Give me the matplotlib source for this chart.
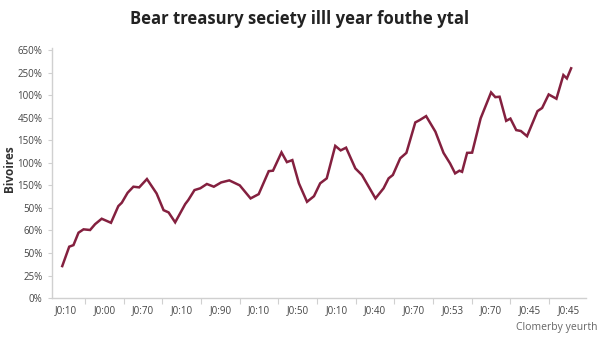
import matplotlib
matplotlib.use("Agg")
import matplotlib.pyplot as plt
from matplotlib.ticker import FixedLocator

# chart text
title = "Bear treasury seciety illl year fouthe ytal"
y_label = "Bivoires"
footer = "Clomerby yeurth"

# category labels along x (one per slot) and tick labels on y (bottom to top)
x_labels = ["J0:10", "J0:00", "J0:70", "J0:10", "J0:90", "J0:10", "J0:50",
            "J0:10", "J0:40", "J0:70", "J0:53", "J0:70", "J0:45", "J0:45"]
y_labels = ["0%", "25%", "50%", "60%", "50%", "150%", "100%",
            "150%", "450%", "100%", "250%", "650%"]

# series (x in category slots, y in tick steps)
x_vals = [-0.09, 0.09, 0.20, 0.33, 0.46, 0.63, 0.76, 0.93, 1.17, 1.36,
          1.45, 1.60, 1.75, 1.90, 2.10, 2.35, 2.53, 2.66, 2.83, 3.09,
          3.17, 3.33, 3.48, 3.65, 3.83, 4.02, 4.23, 4.50, 4.78, 4.99,
          5.25, 5.36, 5.58, 5.72, 5.86, 6.03, 6.24, 6.42, 6.58, 6.75,
          6.97, 7.11, 7.25, 7.49, 7.66, 8.01, 8.22, 8.35, 8.46, 8.65,
          8.81, 9.04, 9.15, 9.32, 9.56, 9.77, 9.94, 10.07, 10.18, 10.25,
          10.38, 10.51, 10.73, 11.00, 11.11, 11.22, 11.39, 11.50, 11.65, 11.77,
          11.93, 12.20, 12.32, 12.49, 12.69, 12.87, 12.96, 13.07]
y_vals = [1.42, 2.28, 2.35, 2.90, 3.05, 3.02, 3.28, 3.52, 3.34, 4.08,
          4.23, 4.67, 4.94, 4.91, 5.28, 4.64, 3.90, 3.80, 3.36, 4.17,
          4.35, 4.79, 4.87, 5.06, 4.94, 5.13, 5.22, 5.00, 4.42, 4.61,
          5.63, 5.65, 6.46, 6.03, 6.12, 5.09, 4.27, 4.52, 5.09, 5.31,
          6.75, 6.55, 6.67, 5.75, 5.46, 4.42, 4.87, 5.31, 5.46, 6.20,
          6.44, 7.79, 7.89, 8.07, 7.38, 6.44, 5.97, 5.53, 5.65, 5.60,
          6.44, 6.45, 7.97, 9.12, 8.91, 8.93, 7.86, 7.96, 7.45, 7.41,
          7.18, 8.29, 8.43, 9.03, 8.84, 9.89, 9.74, 10.19]

line_color = "#84203f"
axis_color = "#d0d0d0"
text_color = "#444444"

plt.rcParams["font.family"] = ["Open Sans", "DejaVu Sans"]

fig = plt.figure(figsize=(6, 3.38), dpi=100)
fig.patch.set_facecolor("white")
ax = fig.add_axes([0.087, 0.118, 0.890, 0.740])

ax.plot(x_vals, y_vals, color=line_color, linewidth=1.8, solid_joinstyle="miter")

ax.set_xlim(-0.35, 13.46)
ax.set_ylim(0, 11.09)

# y ticks: one per label, evenly spaced
ax.set_yticks(range(len(y_labels)))
ax.set_yticklabels(y_labels, fontsize=7, color=text_color)
ax.tick_params(axis="y", length=3, color=axis_color, pad=4)

# x: tick marks on slot boundaries, labels in slot centres
ax.xaxis.set_major_locator(FixedLocator([i + 0.5 for i in range(len(x_labels) - 1)]))
ax.xaxis.set_minor_locator(FixedLocator(range(len(x_labels))))
ax.set_xticklabels([], minor=False)
ax.set_xticklabels(x_labels, minor=True, fontsize=7, color=text_color)
ax.tick_params(axis="x", which="major", length=4, color=axis_color)
ax.tick_params(axis="x", which="minor", length=0, pad=5)

for side in ("top", "right"):
    ax.spines[side].set_visible(False)
for side in ("left", "bottom"):
    ax.spines[side].set_color(axis_color)
    ax.spines[side].set_linewidth(1)

fig.text(0.5, 0.945, title, ha="center", va="center", fontsize=12,
         fontweight="bold", color="#222222")
fig.text(0.016, 0.50, y_label, ha="center", va="center", rotation=90,
         fontsize=8.5, fontweight="bold", color="#333333")
fig.text(0.995, 0.032, footer, ha="right", va="center", fontsize=7.5,
         color="#666666")

fig.savefig("out.png", dpi=100, facecolor="white")
